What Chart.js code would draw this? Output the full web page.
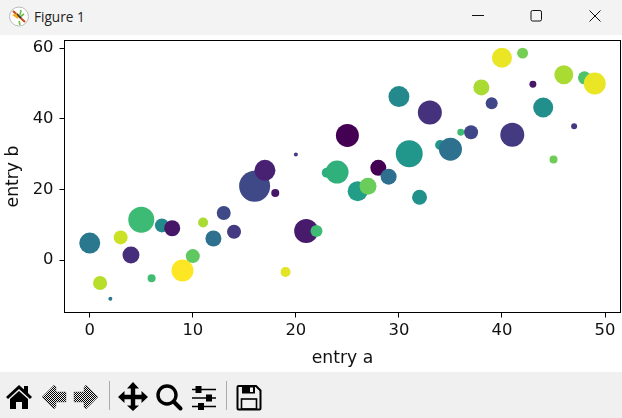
<!DOCTYPE html>
<html>
<head>
<meta charset="utf-8">
<script src="https://cdn.jsdelivr.net/npm/chart.js@4"></script>
<style>
html,body{margin:0;padding:0;width:622px;height:418px;overflow:hidden;background:#fff}
#title{position:absolute;left:0;top:0;width:622px;height:35px;background:#f3f3f3}
#title span{position:absolute;left:34px;top:8px;font:13.6px/18px "Open Sans",sans-serif;color:#222}
#wrap{position:absolute;left:0;top:35px;width:622px;height:337px;background:#fff}
#tools{position:absolute;left:0;top:372px;width:622px;height:46px;background:#f0f0f0}
svg{position:absolute;left:0;top:0}
</style>
</head>
<body>
<div id="title">
<svg width="622" height="35">
<circle cx="19" cy="16.5" r="9.5" fill="#fff" stroke="#aaa" stroke-width="0.8"/>
<path d="M13 11 L25 22" stroke="#c8501e" stroke-width="2.2"/>
<path d="M12 15 L18 13 L18 19 Z" fill="#f5a81c"/>
<path d="M21 10 L20 15 M24 14 L20 17 M19 21 L20 25" stroke="#6fbf4a" stroke-width="1.6"/>
<path d="M17 14 L21 18" stroke="#333" stroke-width="1.4"/>
<path d="M472 15.5 H484" stroke="#111" stroke-width="1"/>
<rect x="531" y="10.5" width="10.5" height="10.5" rx="1.6" fill="none" stroke="#111" stroke-width="1"/>
<path d="M589.5 10.5 L600.5 21.5 M600.5 10.5 L589.5 21.5" stroke="#111" stroke-width="1"/>
</svg>
<span>Figure 1</span>
</div>
<div id="wrap"><canvas id="c" width="622" height="337" style="display:block;width:622px;height:337px"></canvas></div>
<div id="tools">
<svg width="622" height="46">
<defs>
<pattern id="dith" width="2" height="2" patternUnits="userSpaceOnUse"><rect width="1" height="1" fill="#000"/><rect x="1" y="1" width="1" height="1" fill="#000"/></pattern>
</defs>
<path d="M6 25 L19 13 L24 17.5 V14 H28 V21 L32 25 L30 27 L19 17 L8 27 Z" fill="#000"/>
<path d="M10 27 L19 19 L28 27 V37 H22 V30 H16 V37 H10 Z" fill="#000"/>
<path d="M42 25 L54 13 L56 15 V20 H66 V30 H56 V35 L54 37 Z" fill="url(#dith)" stroke="#555" stroke-width="0.4"/>
<path d="M98 25 L86 13 L84 15 V20 H74 V30 H84 V35 L86 37 Z" fill="url(#dith)" stroke="#555" stroke-width="0.4"/>
<path d="M109.5 9 V38" stroke="#aaa" stroke-width="1"/>
<path d="M133 10 L139 16.5 H135.2 V22.8 H141.5 V19 L148 25 L141.5 31 V27.2 H135.2 V33.5 H139 L133 39 L127 33.5 H130.8 V27.2 H124.5 V31 L118 25 L124.5 19 V22.8 H130.8 V16.5 H127 Z" fill="#000"/>
<circle cx="167" cy="23" r="9" fill="none" stroke="#000" stroke-width="3.4"/>
<path d="M173.5 29.5 L180.5 36.5" stroke="#000" stroke-width="4" stroke-linecap="round"/>
<path d="M192 17.5 H216 M192 26 H216 M192 34.5 H216" stroke="#000" stroke-width="1.6"/>
<rect x="195.5" y="14" width="6" height="7" fill="#000"/>
<rect x="206" y="22.5" width="6" height="7" fill="#000"/>
<rect x="198" y="31" width="6" height="7" fill="#000"/>
<path d="M226.5 9 V38" stroke="#aaa" stroke-width="1"/>
<path d="M238.5 14 H256 L260.5 18.5 V36.5 Q260.5 37.5 259.5 37.5 H238.5 Q237.5 37.5 237.5 36.5 V15 Q237.5 14 238.5 14 Z" fill="none" stroke="#000" stroke-width="2"/>
<rect x="242" y="14" width="13" height="7.5" fill="#000"/>
<rect x="250" y="15.5" width="3" height="4.5" fill="#f0f0f0"/>
<rect x="241.5" y="27" width="15" height="10" fill="none" stroke="#000" stroke-width="1.6"/>
</svg>
</div>
<script>
const entryA = [0,1,2,3,4,5,6,7,8,9,10,11,12,13,14,15,16,17,18,19,20,21,22,23,24,25,26,27,28,29,30,31,32,33,34,35,36,37,38,39,40,41,42,43,44,45,46,47,48,49];
const entryB = [4.8,-6.5,-11,6.4,1.4,11.4,-5.2,9.8,9,-3,1.1,10.6,6.1,13.3,8,21.5,20.9,25.4,19,-3.4,29.9,8.2,8.2,24.7,24.9,35.3,19.5,20.9,26.1,23.6,46.3,30.1,17.8,41.8,32.6,31.4,36.2,36.2,48.9,44.4,57.3,35.5,58.6,49.8,43.2,28.5,52.5,37.9,51.6,50];
const bubbleArea = [110,49,4,49,72,169,16,49,64,121,49,25,64,49,49,25,240,110,16,25,4,144,36,25,132,132,100,72,64,64,110,182,56,144,25,132,12,49,64,36,100,144,30,12,100,16,90,9,42,121];
const colorValue = [.40,.89,.40,.92,.13,.68,.69,.47,.06,1,.75,.87,.37,.22,.17,.70,.22,.09,.06,.96,.17,.07,.68,.63,.64,0,.55,.77,0,.36,.47,.52,.50,.14,.52,.37,.68,.21,.87,.21,.97,.17,.79,.06,.49,.78,.87,.17,.72,.97];
const xTicks = [0,10,20,30,40,50];
const yTicks = [0,20,40,60];
const xLabel = "entry a";
const yLabel = "entry b";

const viridis = [[68,1,84],[72,36,117],[65,68,135],[53,95,141],[42,120,142],[33,145,140],[34,168,132],[68,191,112],[122,209,81],[189,223,38],[253,231,37]];
function cmap(t){
  const p = Math.min(t*10, 9.9999), i = Math.floor(p), f = p-i;
  const c = viridis[i].map((v,k)=>Math.round(v+(viridis[i+1][k]-v)*f));
  return `rgb(${c[0]},${c[1]},${c[2]})`;
}
const font = {family:'"DejaVu Sans"', size:16.4};
const titleFont = {family:'"DejaVu Sans"', size:17.2};
const frame = {
  id:'frame',
  afterDatasetsDraw(ch){
    const a = ch.chartArea, g = ch.ctx;
    g.save(); g.strokeStyle='#000'; g.lineWidth=1;
    g.strokeRect(a.left,a.top,a.right-a.left,a.bottom-a.top);
    g.restore();
  }
};
new Chart(document.getElementById('c'),{
  type:'bubble',
  data:{datasets:[{
    data:entryA.map((x,i)=>({x,y:entryB[i],r:Math.sqrt(bubbleArea[i])})),
    backgroundColor:colorValue.map(cmap),
    borderWidth:0,hoverBorderWidth:0
  }]},
  plugins:[frame],
  options:{
    responsive:false,animation:false,devicePixelRatio:1,
    layout:{autoPadding:false,padding:{top:5.5,right:1.5,left:0,bottom:0}},
    plugins:{legend:{display:false},tooltip:{enabled:false},title:{display:false}},
    events:[],
    scales:{
      x:{type:'linear',min:-2.45,max:51.5,
        afterBuildTicks(s){s.ticks=xTicks.map(value=>({value}));},
        afterFit(s){s.height=59.5;s.paddingLeft=0;s.paddingRight=0;},
        grid:{drawOnChartArea:false,drawTicks:true,tickLength:5,tickColor:'#000',tickWidth:1},
        border:{display:true,color:'#000',width:1},
        ticks:{color:'#111',font,padding:3,maxRotation:0,autoSkip:false},
        title:{display:true,text:xLabel,color:'#111',font:titleFont,padding:{top:0,bottom:3}}},
      y:{type:'linear',min:-14.87,max:62.18,
        afterBuildTicks(s){s.ticks=yTicks.map(value=>({value}));},
        afterFit(s){s.width=64.5;s.paddingTop=0;s.paddingBottom=0;},
        grid:{drawOnChartArea:false,drawTicks:true,tickLength:5,tickColor:'#000',tickWidth:1},
        border:{display:true,color:'#000',width:1},
        ticks:{color:'#111',font,padding:6,autoSkip:false},
        title:{display:true,text:yLabel,color:'#111',font:titleFont,padding:{top:3,bottom:0}}}
    }
  }
});
</script>
</body>
</html>
